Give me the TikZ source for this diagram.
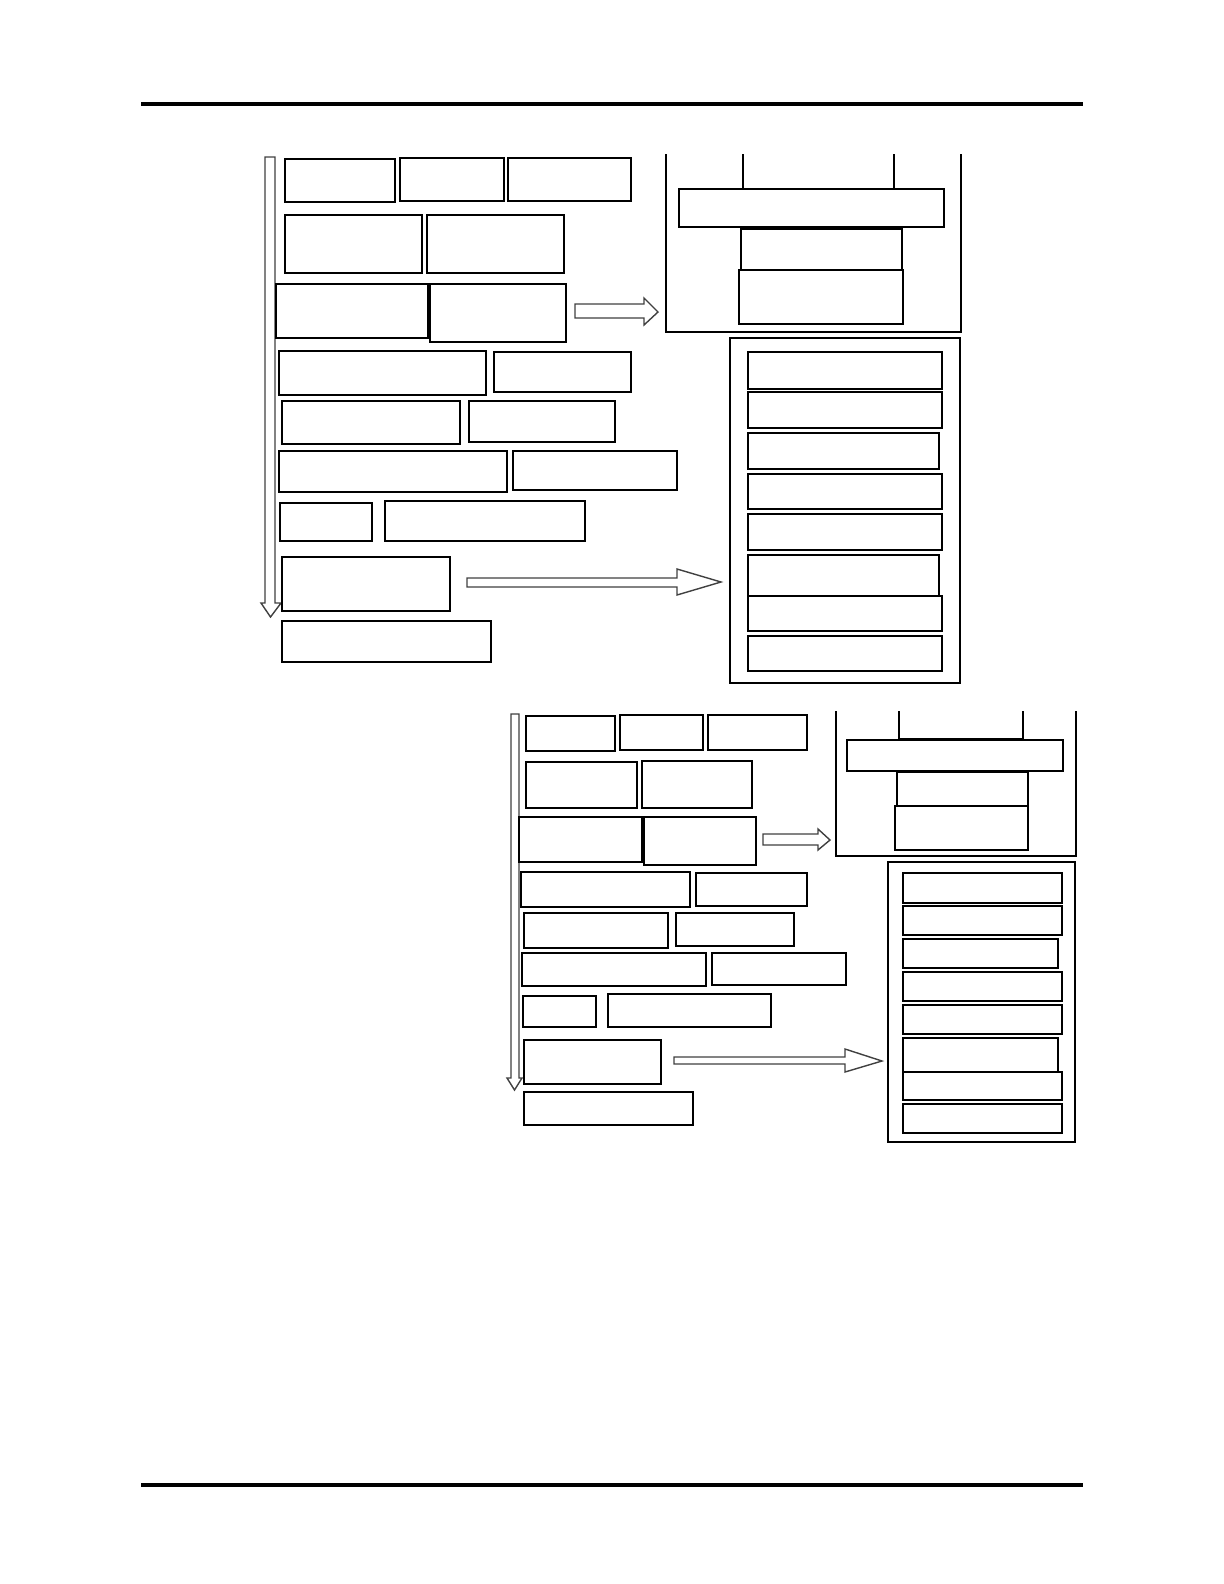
\documentclass[tikz,border=0pt]{standalone}
\usetikzlibrary{fit}
\tikzset{
  box/.style={draw=black, line width=1bp, inner sep=0pt, outer sep=0pt},
  frame/.style={draw=black, line width=1bp},
  blockarrow/.style={draw=black!75, line width=0.7bp, fill=white, line join=miter},
  rule/.style={draw=black, line width=2bp}
}
\newcommand\bx[5]{\node[box, fit={(#2,#3) (#4,#5)}] (#1) {};}
\begin{document}
\begin{tikzpicture}[x=0.5bp, y=-0.5bp]
\useasboundingbox (0,0) rectangle (1224,1584);
% rules
\coordinate (r1a) at (141,104); \coordinate (r1b) at (1083,104);
\coordinate (r2a) at (141,1485); \coordinate (r2b) at (1083,1485);
\draw[rule] (r1a) -- (r1b);
\draw[rule] (r2a) -- (r2b);

% ================= upper diagram =================
\draw[blockarrow] (265,157) -- (275,157) -- (275,603) -- (281,603) -- (270.5,617) -- (261,603) -- (265,603) -- cycle;
\bx{a1}{285}{159}{395}{202}
\bx{a2}{400}{158}{504}{201}
\bx{a3}{508}{158}{631}{201}
\bx{b1}{285}{215}{422}{273}
\bx{b2}{427}{215}{564}{273}
\bx{c1}{276}{284}{428}{338}
\bx{c2}{430}{284}{566}{342}
\bx{d1}{279}{351}{486}{395}
\bx{d2}{494}{352}{631}{392}
\bx{e1}{282}{401}{460}{444}
\bx{e2}{469}{401}{615}{442}
\bx{f1}{279}{451}{507}{492}
\bx{f2}{513}{451}{677}{490}
\bx{g1}{280}{503}{372}{541}
\bx{g2}{385}{501}{585}{541}
\bx{h1}{282}{557}{450}{611}
\bx{k1}{282}{621}{491}{662}
% block arrows
\draw[blockarrow] (575,304) -- (644,304) -- (644,298) -- (658,312) -- (644,325) -- (644,318) -- (575,318) -- cycle;
\draw[blockarrow] (467,578) -- (677,578) -- (677,569) -- (721,582) -- (677,595) -- (677,587) -- (467,587) -- cycle;
% top-right open frame
\draw[frame] (666,154) -- (666,332) -- (961,332) -- (961,154);
\draw[frame] (743,154) -- (743,189) -- (894,189) -- (894,154);
\bx{t1}{679}{189}{944}{227}
\bx{t2}{741}{229}{902}{270}
\bx{t3}{739}{270}{903}{324}
% right list
\bx{L}{730}{338}{960}{683}
\bx{l1}{748}{352}{942}{389}
\bx{l2}{748}{392}{942}{428}
\bx{l3}{748}{433}{939}{469}
\bx{l4}{748}{474}{942}{509}
\bx{l5}{748}{514}{942}{550}
\bx{l6}{748}{555}{939}{596}
\bx{l7}{748}{596}{942}{631}
\bx{l8}{748}{636}{942}{671}

% ================= lower diagram =================
\draw[blockarrow] (511,714) -- (519,714) -- (519,1078) -- (522,1078) -- (514.5,1090) -- (507,1078) -- (511,1078) -- cycle;
\bx{A1}{526}{716}{615}{751}
\bx{A2}{620}{715}{703}{750}
\bx{A3}{708}{715}{807}{750}
\bx{B1}{526}{762}{637}{808}
\bx{B2}{642}{761}{752}{808}
\bx{C1}{519}{817}{642}{862}
\bx{C2}{644}{817}{756}{865}
\bx{D1}{521}{872}{690}{907}
\bx{D2}{696}{873}{807}{906}
\bx{E1}{524}{913}{668}{948}
\bx{E2}{676}{913}{794}{946}
\bx{F1}{522}{953}{706}{986}
\bx{F2}{712}{953}{846}{985}
\bx{G1}{523}{996}{596}{1027}
\bx{G2}{608}{994}{771}{1027}
\bx{H1}{524}{1040}{661}{1084}
\bx{K1}{524}{1092}{693}{1125}
% block arrows
\draw[blockarrow] (763,834) -- (818,834) -- (818,829) -- (830,840) -- (818,850) -- (818,845) -- (763,845) -- cycle;
\draw[blockarrow] (674,1057) -- (845,1057) -- (845,1049) -- (882,1061) -- (845,1072) -- (845,1064) -- (674,1064) -- cycle;
% upper-right open frame
\draw[frame] (836,711) -- (836,856) -- (1076,856) -- (1076,711);
\draw[frame] (899,711) -- (899,739) -- (1023,739) -- (1023,711);
\bx{T1}{847}{740}{1063}{771}
\bx{T2}{897}{772}{1028}{806}
\bx{T3}{895}{806}{1028}{850}
% right list
\bx{M}{888}{862}{1075}{1142}
\bx{m1}{903}{873}{1062}{903}
\bx{m2}{903}{906}{1062}{935}
\bx{m3}{903}{939}{1058}{968}
\bx{m4}{903}{972}{1062}{1001}
\bx{m5}{903}{1005}{1062}{1034}
\bx{m6}{903}{1038}{1058}{1072}
\bx{m7}{903}{1072}{1062}{1100}
\bx{m8}{903}{1104}{1062}{1133}
\end{tikzpicture}
\end{document}
